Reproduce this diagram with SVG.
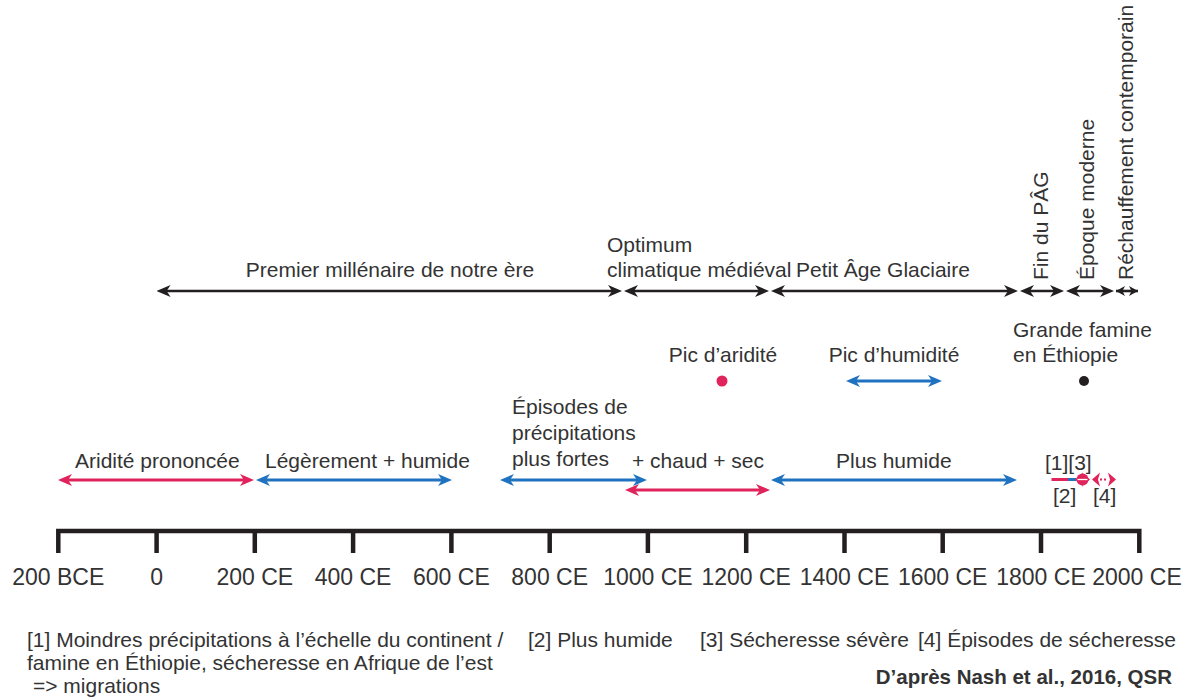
<svg xmlns="http://www.w3.org/2000/svg" width="1191" height="697" viewBox="0 0 1191 697">
<style>
text{font-family:"Liberation Sans",Arial,sans-serif;font-size:21px;fill:#333}
.ax{font-size:23px;text-anchor:middle}
.c{text-anchor:middle}
.bold{font-weight:bold;font-size:20.5px;text-anchor:end}
.k{stroke:#231f20;stroke-width:2.6;fill:none}
.r{stroke:#e0245b;stroke-width:3;fill:none}
.b{stroke:#1f72c0;stroke-width:3;fill:none}
.axis{stroke:#231f20;stroke-width:4.5;fill:none}
</style>
<defs>
<marker id="ak" markerUnits="userSpaceOnUse" viewBox="0 0 14 14" markerWidth="14" markerHeight="14" refX="9" refY="7" orient="auto-start-reverse"><path d="M0,1 L14,7 L0,13 L4,7 z" fill="#231f20"/></marker>
<marker id="aks" markerUnits="userSpaceOnUse" viewBox="0 0 9 12" markerWidth="9" markerHeight="12" refX="9" refY="6" orient="auto-start-reverse"><path d="M0,1 L9,6 L0,11 L2.5,6 z" fill="#231f20"/></marker>
<marker id="ar" markerUnits="userSpaceOnUse" viewBox="0 0 14 14" markerWidth="14" markerHeight="14" refX="9" refY="7" orient="auto-start-reverse"><path d="M0,1 L14,7 L0,13 L4,7 z" fill="#e0245b"/></marker>
<marker id="ab" markerUnits="userSpaceOnUse" viewBox="0 0 14 14" markerWidth="14" markerHeight="14" refX="9" refY="7" orient="auto-start-reverse"><path d="M0,1 L14,7 L0,13 L4,7 z" fill="#1f72c0"/></marker>
</defs>

<g id="axis">
<path class="axis" d="M58.3,553 V531 H1139.3 V553"/>
<path class="axis" d="M156.6,531 V553 M254.8,531 V553 M353.1,531 V553 M451.4,531 V553 M549.7,531 V553 M647.9,531 V553 M746.2,531 V553 M844.5,531 V553 M942.7,531 V553 M1041,531 V553"/>
<text class="ax" x="58.3" y="585">200 BCE</text>
<text class="ax" x="156.6" y="585">0</text>
<text class="ax" x="254.8" y="585">200 CE</text>
<text class="ax" x="353.1" y="585">400 CE</text>
<text class="ax" x="451.4" y="585">600 CE</text>
<text class="ax" x="549.7" y="585">800 CE</text>
<text class="ax" x="647.9" y="585">1000 CE</text>
<text class="ax" x="746.2" y="585">1200 CE</text>
<text class="ax" x="844.5" y="585">1400 CE</text>
<text class="ax" x="942.7" y="585">1600 CE</text>
<text class="ax" x="1041" y="585">1800 CE</text>
<text class="ax" x="1137" y="585">2000 CE</text>
</g>

<g id="connectors">
<line class="k" x1="161.6" y1="291" x2="617" y2="291" marker-start="url(#ak)" marker-end="url(#ak)"/>
<line class="k" x1="629" y1="291" x2="764" y2="291" marker-start="url(#ak)" marker-end="url(#ak)"/>
<line class="k" x1="776" y1="291" x2="1013" y2="291" marker-start="url(#ak)" marker-end="url(#ak)"/>
<line class="k" x1="1025" y1="291" x2="1059" y2="291" marker-start="url(#ak)" marker-end="url(#ak)"/>
<line class="k" x1="1071" y1="291" x2="1109" y2="291" marker-start="url(#ak)" marker-end="url(#ak)"/>
<line class="k" x1="1116" y1="291" x2="1138" y2="291" marker-start="url(#aks)" marker-end="url(#aks)"/>

<line class="r" x1="63" y1="480" x2="249" y2="480" marker-start="url(#ar)" marker-end="url(#ar)"/>
<line class="b" x1="261" y1="480" x2="447" y2="480" marker-start="url(#ab)" marker-end="url(#ab)"/>
<line class="b" x1="505" y1="480" x2="642" y2="480" marker-start="url(#ab)" marker-end="url(#ab)"/>
<line class="b" x1="776" y1="480" x2="1012" y2="480" marker-start="url(#ab)" marker-end="url(#ab)"/>
<line class="r" x1="630" y1="490" x2="765" y2="490" marker-start="url(#ar)" marker-end="url(#ar)"/>
<line class="b" x1="851" y1="381" x2="937" y2="381" marker-start="url(#ab)" marker-end="url(#ab)"/>

<line x1="1051.5" y1="479.5" x2="1068" y2="479.5" stroke="#e0245b" stroke-width="3"/>
<line x1="1068" y1="479.5" x2="1076" y2="479.5" stroke="#1f72c0" stroke-width="3"/>
<path d="M1075,479.5 L1083,472.5 L1081,479.5 L1083,486.5 z M1090,479.5 L1082,472.5 L1084,479.5 L1082,486.5 z" fill="#e0245b"/>
<ellipse cx="1082.5" cy="479.5" rx="6" ry="6" fill="#e0245b"/>
<line x1="1077.5" y1="479.5" x2="1087.5" y2="479.5" stroke="#fff" stroke-width="1.3"/>
<path d="M1092,479.5 L1100,472.5 L1098,479.5 L1100,486.5 z M1116,479.5 L1108,472.5 L1110,479.5 L1108,486.5 z" fill="#e0245b"/>
<line x1="1100" y1="479.5" x2="1108" y2="479.5" stroke="#e0245b" stroke-width="2.2" stroke-dasharray="2 2"/>
</g>

<g id="period-labels">
<text x="390" y="277" class="c">Premier millénaire de notre ère</text>
<text x="607" y="252">Optimum</text>
<text x="607" y="277">climatique médiéval</text>
<text x="796" y="277">Petit Âge Glaciaire</text>
<text transform="translate(1048,280) rotate(-90)">Fin du PÂG</text>
<text transform="translate(1094,280) rotate(-90)">Époque moderne</text>
<text transform="translate(1133,280) rotate(-90)">Réchauffement contemporain</text>
</g>

<g id="peaks">
<text x="723" y="362" class="c">Pic d’aridité</text>
<circle cx="722" cy="381" r="5.5" fill="#e0245b"/>
<text x="894" y="362" class="c">Pic d’humidité</text>
<text x="1013" y="337">Grande famine</text>
<text x="1013" y="362">en Éthiopie</text>
<circle cx="1084" cy="381" r="5" fill="#231f20"/>
</g>

<g id="climate-labels">
<text x="75" y="468">Aridité prononcée</text>
<text x="265" y="468">Légèrement + humide</text>
<text x="512" y="414">Épisodes de</text>
<text x="512" y="440">précipitations</text>
<text x="512" y="466">plus fortes</text>
<text x="632" y="468">+ chaud + sec</text>
<text x="836" y="468">Plus humide</text>
<text x="1045" y="470">[1][3]</text>
<text x="1053" y="503">[2]</text>
<text x="1093" y="503">[4]</text>
</g>

<g id="legend">
<text x="27" y="647">[1] Moindres précipitations à l’échelle du continent /</text>
<text x="27" y="670">famine en Éthiopie, sécheresse en Afrique de l’est</text>
<text x="33" y="693">=&gt; migrations</text>
<text x="528" y="647">[2] Plus humide</text>
<text x="700" y="647">[3] Sécheresse sévère</text>
<text x="918" y="647">[4] Épisodes de sécheresse</text>
<text x="1172" y="684" class="bold">D’après Nash et al., 2016, QSR</text>
</g>
</svg>
